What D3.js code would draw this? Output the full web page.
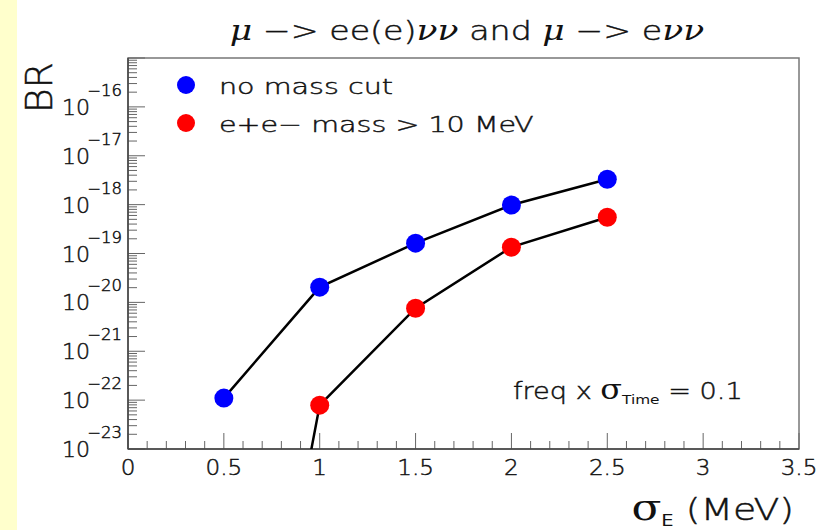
<!DOCTYPE html>
<html>
<head>
<meta charset="utf-8">
<script src="https://cdn.jsdelivr.net/npm/d3@7"></script>
<style>
  html, body { margin: 0; padding: 0; background: #fff; }
  svg { display: block; }
  text { font-family: "DejaVu Sans", "Liberation Sans", sans-serif; fill: #111; }
  text.light { font-weight: 200; stroke: #111; stroke-width: 0.45px; }
</style>
</head>
<body>
<svg id="chart" width="823" height="530"></svg>
<script>
// Energy resolution (MeV)
const sigmaE = [0.5, 1.0, 1.5, 2.0, 2.5];
// Branching ratios, no cut on the e+e- invariant mass
const brNoCut = [1.1e-22, 2.05e-20, 1.63e-19, 9.8e-19, 3.3e-18];
// Branching ratios with e+e- mass > 10 MeV
const brMassCut = [3.5e-33, 7.9e-23, 7.6e-21, 1.35e-19, 5.5e-19];
const xTickLabels = ["0", "0.5", "1", "1.5", "2", "2.5", "3", "3.5"];
const yDecades = [-23, -22, -21, -20, -19, -18, -17, -16];
const legendLabels = ["no mass cut", "e+e\u2212 mass > 10 MeV"];
const seriesColors = ["#0000ff", "#ff0000"];

const svg = d3.select("#chart");
const W = 823, H = 530;
const frame = { left: 128, right: 799, top: 58, bottom: 449 };

svg.append("rect").attr("width", W).attr("height", H).attr("fill", "#fff");
svg.append("rect").attr("x", 0).attr("y", 0).attr("width", 17).attr("height", H).attr("fill", "#ffffcc");

// Light text widened horizontally, for the broad geometric lettering of the labels
function wideText(parent, x, y, sx, anchor, size) {
  return parent.append("g")
    .attr("transform", `translate(${x},${y}) scale(${sx},1)`)
    .append("text")
    .attr("class", "light")
    .attr("x", 0).attr("y", 0)
    .attr("text-anchor", anchor).attr("font-size", size);
}

// A label assembled from separate pieces (light Latin text, Greek symbols, subscripts),
// laid out side by side from their measured widths.
function richText(parent, x, y, sx, anchor, base, pieces) {
  const g = parent.append("g").attr("transform", `translate(${x},${y}) scale(${sx},1)`);
  const nodes = pieces.map(p => {
    const t = g.append("text").attr("y", p.dy || 0).attr("font-size", p.size || base).text(p.t);
    if (p.sym) {
      t.style("font-family", "'DejaVu Serif', serif").style("font-style", p.italic ? "italic" : "normal");
    } else if (!p.plain) {
      t.attr("class", "light");
    }
    return t;
  });
  const widths = nodes.map(n => n.node().getComputedTextLength());
  const total = d3.sum(widths);
  let cx = anchor === "middle" ? -total / 2 : anchor === "end" ? -total : 0;
  nodes.forEach((n, i) => { n.attr("x", cx); cx += widths[i]; });
  return g;
}

const x = d3.scaleLinear().domain([0, 3.5]).range([frame.left, frame.right]);
const y = d3.scaleLog().domain([1e-23, 1e-15]).range([frame.bottom, frame.top]);

// frame box
svg.append("rect")
  .attr("x", frame.left).attr("y", frame.top)
  .attr("width", frame.right - frame.left).attr("height", frame.bottom - frame.top)
  .attr("fill", "#fff").attr("stroke", "#777").attr("stroke-width", 1.5);

// x axis: major ticks every 0.5, minor every 0.1
const xAxisG = svg.append("g");
const xMinor = d3.range(0, 36).map(i => i / 10);
xAxisG.selectAll("line.xt").data(xMinor).join("line")
  .attr("x1", d => x(d)).attr("x2", d => x(d))
  .attr("y1", frame.bottom)
  .attr("y2", (d, i) => frame.bottom - (i % 5 === 0 ? 16 : 8))
  .attr("stroke", "#666").attr("stroke-width", 1);
xTickLabels.forEach(d => {
  wideText(xAxisG, x(+d), 475, 1.1, "middle", 21).text(d);
});

// y axis: log ticks
const yAxisG = svg.append("g");
const yTicks = [];
for (let e = -23; e < -15; e++) {
  for (let k = 1; k <= 9; k++) yTicks.push({ v: k * Math.pow(10, e), major: k === 1 });
}
yTicks.push({ v: 1e-15, major: true });
yAxisG.selectAll("line").data(yTicks).join("line")
  .attr("x1", frame.left).attr("x2", d => frame.left + (d.major ? 17 : 9))
  .attr("y1", d => y(d.v)).attr("y2", d => y(d.v))
  .attr("stroke", "#666").attr("stroke-width", 1);
yDecades.forEach(d => {
  const ty = y(Math.pow(10, d));
  wideText(yAxisG, 90, ty + 8, 1.05, "end", 21).text("10");
  wideText(yAxisG, 122, ty - 11, 1.1, "end", 15).text("\u2212" + Math.abs(d));
});

// axis lines on top of frame
svg.append("line").attr("x1", frame.left).attr("x2", frame.right)
  .attr("y1", frame.bottom).attr("y2", frame.bottom).attr("stroke", "#444").attr("stroke-width", 1.5);
svg.append("line").attr("x1", frame.left).attr("x2", frame.left)
  .attr("y1", frame.top).attr("y2", frame.bottom).attr("stroke", "#444").attr("stroke-width", 1.5);

// data
svg.append("clipPath").attr("id", "plotclip").append("rect")
  .attr("x", frame.left).attr("y", frame.top)
  .attr("width", frame.right - frame.left).attr("height", frame.bottom - frame.top);

const plot = svg.append("g").attr("clip-path", "url(#plotclip)");
const line = d3.line().x(d => x(d[0])).y(d => y(d[1]));
const series = [brNoCut, brMassCut];
series.forEach((vals, si) => {
  const pts = sigmaE.map((s, i) => [s, vals[i]]);
  plot.append("path").datum(pts).attr("d", line)
    .attr("fill", "none").attr("stroke", "#000").attr("stroke-width", 2.5);
  plot.selectAll("circle.s" + si).data(pts).join("circle")
    .attr("class", "s" + si)
    .attr("cx", d => x(d[0])).attr("cy", d => y(d[1])).attr("r", 9.5)
    .attr("fill", seriesColors[si]);
});

// legend
legendLabels.forEach((lab, i) => {
  const cy = 85 + i * 38;
  svg.append("circle").attr("cx", 186).attr("cy", cy).attr("r", 9).attr("fill", seriesColors[i]);
  wideText(svg, 219, cy + 9, 1.3, "start", 22).text(lab);
});

// annotation
richText(svg, 513, 399, 1.18, "start", 23, [
  { t: "freq\u00a0x\u00a0" },
  { t: "\u03c3", sym: true, size: 27 },
  { t: "Time", plain: true, size: 13, dy: 5 },
  { t: "\u00a0=\u00a00.1" }
]);

// title
const nu = { t: "\u03bd\u03bd", sym: true, italic: true, size: 27 };
const mu = { t: "\u03bc", sym: true, italic: true, size: 27 };
richText(svg, 467, 40, 1.28, "middle", 26, [
  mu, { t: "\u00a0\u2212>\u00a0ee(e)" }, nu,
  { t: "\u00a0and\u00a0" },
  mu, { t: "\u00a0\u2212>\u00a0e" }, nu
]);

// axis titles
svg.append("text").attr("class", "light")
  .attr("transform", "translate(52,62) rotate(-90)")
  .attr("text-anchor", "end").attr("font-size", 38).text("BR");
richText(svg, 794, 520, 1.22, "end", 31, [
  { t: "\u03c3", sym: true, size: 36 },
  { t: "E", plain: true, size: 16, dy: 6 },
  { t: "\u00a0(MeV)" }
]);
</script>
</body>
</html>
